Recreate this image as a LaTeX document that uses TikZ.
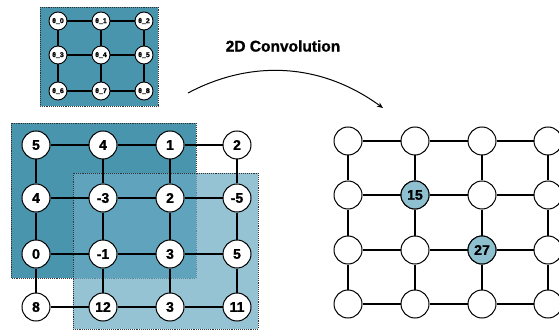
\documentclass[tikz,border=0pt]{standalone}
\usepackage{fontspec}
\setmainfont{Liberation Sans}[BoldFeatures={FakeBold=1.2}]
\usetikzlibrary{arrows.meta}
\definecolor{darkbox}{RGB}{74,149,174}
\definecolor{lightbox}{RGB}{105,169,194}
\definecolor{hinode}{RGB}{143,192,207}
\tikzset{
  vnode/.style={circle,draw=black,line width=1pt,fill=white,minimum size=28pt,inner sep=0pt,font=\bfseries\fontsize{14}{14}\selectfont},
  knode/.style={circle,draw=black,line width=0.9pt,fill=white,minimum size=18pt,inner sep=0pt,font=\bfseries\fontsize{7}{7}\selectfont},
  edge/.style={line width=1.1pt,black},
  boxdot/.style={draw=black!80,line width=0.9pt,densely dotted},
}
\begin{document}
\begin{tikzpicture}[x=1pt,y=-1pt]
\useasboundingbox (0,0) rectangle (559,331);
% boxes
\fill[darkbox] (11,123) rectangle (196,278);
\draw[boxdot] (11,123) rectangle (196,278);
\fill[lightbox,opacity=0.7] (73,173) rectangle (258,329);
\draw[boxdot] (73,173) rectangle (258,329);
\fill[darkbox] (40,7) rectangle (158,106);
\draw[boxdot] (40,7) rectangle (158,106);
% kernel
\def\kx{{58,101,144}}
\def\ky{{21,55,91}}
\foreach \r in {0,1,2}{
  \foreach \c in {0,1,2}{
    \pgfmathtruncatemacro{\idx}{3*\r+\c}
    \pgfmathsetmacro{\xx}{\kx[\c]}
    \pgfmathsetmacro{\yy}{\ky[\r]}
    \node[knode] (k\r\c) at (\xx,\yy) {θ\_\idx};
  }
}
% left grid values
\def\gx{{36,103,170,237}}
\def\gy{{145,198,254,307}}
\def\vals{{{"5","4","1","2"},{"4","-3","2","-5"},{"0","-1","3","5"},{"8","12","3","11"}}}
\foreach \r in {0,...,3}{
  \foreach \c in {0,...,3}{
    \pgfmathsetmacro{\xx}{\gx[\c]}
    \pgfmathsetmacro{\yy}{\gy[\r]}
    \pgfmathsetmacro{\vv}{\vals[\r][\c]}
    \node[vnode] (g\r\c) at (\xx,\yy) {\vv};
  }
}
% right grid
\def\hx{{348,415,482,548}}
\def\hy{{141,195,250,304}}
\foreach \r in {0,...,3}{
  \foreach \c in {0,...,3}{
    \pgfmathsetmacro{\xx}{\hx[\c]}
    \pgfmathsetmacro{\yy}{\hy[\r]}
    \node[vnode] (h\r\c) at (\xx,\yy) {};
  }
}
\node[vnode,fill=hinode] (h11) at (415,195) {15};
\node[vnode,fill=hinode] (h22) at (482,250) {27};
% edges
\foreach \r in {0,1,2}{
  \foreach \c/\d in {0/1,1/2}{
    \draw[edge] (k\r\c) -- (k\r\d);
    \draw[edge] (k\c\r) -- (k\d\r);
  }
}
\foreach \r in {0,...,3}{
  \foreach \c/\d in {0/1,1/2,2/3}{
    \draw[edge] (g\r\c) -- (g\r\d);
    \draw[edge] (g\c\r) -- (g\d\r);
    \draw[edge] (h\r\c) -- (h\r\d);
    \draw[edge] (h\c\r) -- (h\d\r);
  }
}
% title and arrow
\node[font=\bfseries\fontsize{15.5}{16}\selectfont] (title) at (283,46) {2D Convolution};
\coordinate (as) at (188,93);
\coordinate (ae) at (383,108);
\draw[line width=1pt,-{Stealth[length=6pt,width=5pt]}] (as) .. controls (250,60) and (320,62) .. (ae);
\end{tikzpicture}
\end{document}
